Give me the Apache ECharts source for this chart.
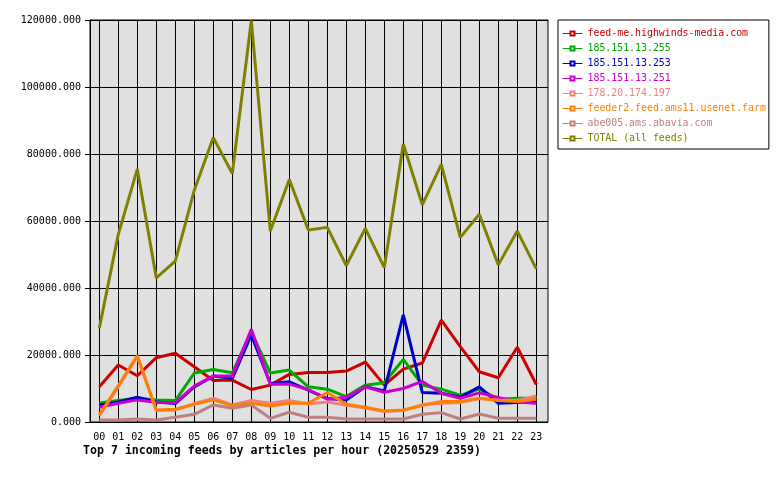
<!DOCTYPE html>
<html>
<head>
<meta charset="utf-8">
<script src="https://cdn.jsdelivr.net/npm/echarts@6/dist/echarts.min.js"></script>
<style>
  html, body { margin: 0; padding: 0; background: #fff; }
  #container { width: 780px; height: 480px; }
</style>
</head>
<body>
<div id="container"></div>
<script>
var hours = ['00','01','02','03','04','05','06','07','08','09','10','11',
             '12','13','14','15','16','17','18','19','20','21','22','23'];

var feedMe   = [10500, 17000, 13800, 19200, 20500, 16500, 12400, 12500, 9700, 11000, 14200, 14800,
                14800, 15200, 17900, 11000, 15800, 17600, 30400, 22500, 15000, 13200, 22300, 11200];
var ip255    = [5700, 6400, 7100, 6600, 6400, 14600, 15700, 14700, 27000, 14600, 15500, 10500,
                9800, 7600, 11000, 11700, 18700, 11000, 9800, 8000, 9800, 6800, 7100, 7100];
var ip253    = [5000, 6000, 7400, 6000, 5500, 10500, 13700, 13000, 26000, 11500, 12000, 9500,
                7000, 6600, 10500, 9300, 32000, 8800, 8600, 7400, 10500, 5600, 5800, 6100];
var ip251    = [4400, 5600, 6600, 5900, 5800, 10700, 13700, 13700, 27700, 11300, 11300, 9700,
                6800, 7400, 10500, 8900, 10000, 12100, 8600, 7100, 8700, 7300, 6000, 5600];
var ip197    = [1900, 10500, 19500, 3400, 3600, 5500, 7100, 5100, 6400, 5600, 6400, 5400,
                6000, 5000, 4200, 3100, 3400, 5200, 5600, 5800, 7000, 6600, 6400, 7800];
var feeder2  = [2100, 10900, 19800, 3600, 3800, 5300, 6600, 4900, 5600, 4800, 5600, 5600,
                8800, 5300, 4400, 3300, 3600, 4900, 6100, 6100, 7100, 6400, 6100, 6800];
var abe005   = [600, 600, 900, 600, 1400, 2300, 5100, 4100, 5100, 1100, 2900, 1400,
                1400, 900, 900, 900, 900, 2300, 2800, 900, 2400, 1100, 1100, 1100];
var total    = [28000, 56000, 75500, 43000, 48000, 69200, 84900, 74200, 119800, 57000, 72400, 57300,
                58100, 46700, 57800, 46100, 83000, 64800, 76900, 55100, 62000, 46900, 57000, 45700];

var names  = ['feed-me.highwinds-media.com', '185.151.13.255', '185.151.13.253', '185.151.13.251',
              '178.20.174.197', 'feeder2.feed.ams11.usenet.farm', 'abe005.ams.abavia.com', 'TOTAL (all feeds)'];
var colors = ['#cc0000', '#00aa00', '#0000cc', '#cc00cc', '#f08080', '#ff8000', '#c08080', '#808000'];
var values = [feedMe, ip255, ip253, ip251, ip197, feeder2, abe005, total];

var mono = 'DejaVu Sans Mono';

var series = names.map(function (n, i) {
    return {
        name: n,
        type: 'line',
        xAxisIndex: 1,
        yAxisIndex: 1,
        data: values[i],
        symbol: 'emptyRect',
        showSymbol: false,
        color: colors[i],
        lineStyle: { width: 3, color: colors[i] }
    };
});

var option = {
    animation: false,
    backgroundColor: '#fff',
    title: {
        text: 'Top 7 incoming feeds by articles per hour (20250529 2359)',
        left: 78,
        top: 440,
        textStyle: { fontFamily: mono, fontSize: 11.6, fontWeight: 'bold', color: '#000' }
    },
    legend: {
        orient: 'vertical',
        left: 558,
        top: 20,
        padding: [8, 3, 5, 4],
        itemWidth: 20,
        itemHeight: 5,
        itemGap: 4,
        borderColor: '#000',
        borderWidth: 1,
        backgroundColor: '#fff',
        lineStyle: { width: 1 },
        textStyle: { fontFamily: mono, fontSize: 9.9, lineHeight: 11 },
        data: names.map(function (n, i) {
            return { name: n, textStyle: { color: colors[i] } };
        })
    },
    grid: [
        // frame + horizontal lines
        { left: 90, top: 20, width: 458, height: 402, show: true,
          backgroundColor: '#e0e0e0', borderColor: '#000', borderWidth: 1 },
        // data area, hour 00 .. 23
        { left: 99.3, top: 20, width: 437, height: 402 }
    ],
    xAxis: [
        { gridIndex: 0, type: 'value', show: false },
        {
            gridIndex: 1,
            type: 'category',
            boundaryGap: false,
            data: hours,
            axisLine: { show: false },
            axisTick: { show: false },
            splitLine: { show: true, lineStyle: { color: '#000', width: 1 } },
            axisLabel: { interval: 0, margin: 10, color: '#000', fontFamily: mono, fontSize: 10 }
        }
    ],
    yAxis: [
        {
            gridIndex: 0,
            type: 'value',
            min: 0,
            max: 120000,
            interval: 20000,
            axisLine: { show: true, lineStyle: { color: '#000' } },
            axisTick: { show: true, length: 5, lineStyle: { color: '#000' } },
            splitLine: { show: true, lineStyle: { color: '#000', width: 1 } },
            axisLabel: {
                margin: 9, color: '#000', fontFamily: mono, fontSize: 10,
                formatter: function (v) { return v.toFixed(3); }
            }
        },
        { gridIndex: 1, type: 'value', min: 0, max: 120000, show: false }
    ],
    series: series
};

var chart = echarts.init(document.getElementById('container'));
chart.setOption(option);
</script>
</body>
</html>
